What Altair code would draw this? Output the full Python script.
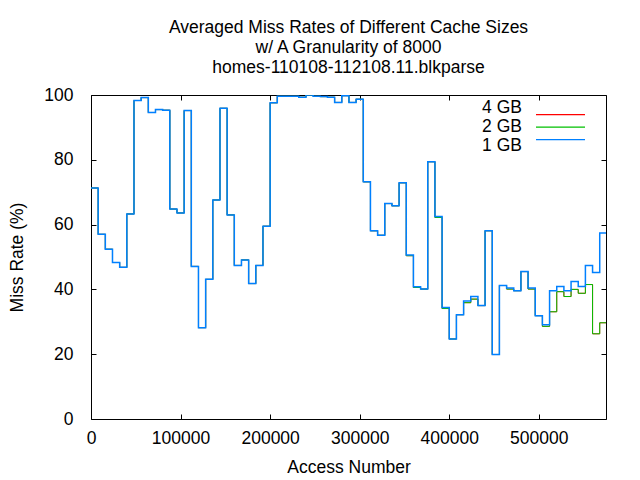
import altair as alt
import pandas as pd

granularity = 8000
series_names = ["4 GB", "2 GB", "1 GB"]
series_colors = ["#ff0000", "#00c000", "#0080ff"]
x_ticks = [0, 100000, 200000, 300000, 400000, 500000]
y_ticks = [0, 20, 40, 60, 80, 100]
title_lines = [
    "Averaged Miss Rates of Different Cache Sizes",
    "w/ A Granularity of 8000",
    "homes-110108-112108.11.blkparse",
]

miss_1gb = [
    71.3, 57.0, 52.4, 48.3, 46.8, 63.3, 98.3, 99.2, 94.6, 95.5,
    95.3, 64.8, 63.6, 95.2, 47.1, 28.2, 43.1, 67.6, 95.9, 63.0,
    47.4, 49.1, 41.8, 47.4, 59.5, 97.6, 99.6, 99.6, 99.6, 99.3,
    100.0, 99.6, 99.5, 99.3, 97.7, 99.8, 97.7, 98.7, 73.2, 58.1,
    56.7, 66.5, 65.8, 72.9, 50.6, 40.8, 40.1, 79.4, 62.5, 34.4,
    24.7, 32.2, 36.4, 37.8, 35.0, 58.1, 19.9, 41.2, 40.4, 39.6,
    45.5, 40.4, 31.9, 29.1, 39.6, 40.9, 39.6, 42.4, 40.9, 47.4,
    45.2, 57.4,
]
miss_2gb = [
    71.3, 57.0, 52.4, 48.3, 46.8, 63.3, 98.3, 99.2, 94.6, 95.5,
    95.3, 64.8, 63.6, 95.2, 47.1, 28.2, 43.1, 67.6, 95.9, 63.0,
    47.4, 49.1, 41.8, 47.4, 59.5, 97.6, 99.6, 99.6, 99.6, 99.3,
    100.0, 99.6, 99.5, 99.3, 97.7, 99.8, 97.7, 98.7, 73.2, 58.1,
    56.7, 66.5, 65.8, 72.9, 50.4, 40.6, 40.1, 79.4, 62.2, 34.1,
    24.7, 32.2, 35.9, 37.0, 35.0, 58.1, 19.9, 41.2, 40.1, 39.6,
    45.5, 40.1, 31.9, 28.6, 33.1, 39.3, 37.8, 40.0, 38.8, 41.5,
    26.3, 29.7,
]
miss_4gb = [
    71.3, 57.0, 52.4, 48.3, 46.8, 63.3, 98.3, 99.2, 94.6, 95.5,
    95.3, 64.8, 63.6, 95.2, 47.1, 28.2, 43.1, 67.6, 95.9, 63.0,
    47.4, 49.1, 41.8, 47.4, 59.5, 97.6, 99.6, 99.6, 99.6, 99.3,
    100.0, 99.6, 99.5, 99.3, 97.7, 99.8, 97.7, 98.7, 73.2, 58.1,
    56.7, 66.5, 65.8, 72.9, 50.4, 40.6, 40.1, 79.4, 62.2, 34.1,
    24.7, 32.2, 35.9, 37.0, 35.0, 58.1, 19.9, 41.2, 40.1, 39.6,
    45.5, 40.1, 31.9, 28.6, 33.1, 39.3, 37.8, 40.0, 38.8, 41.5,
    26.3, 29.7,
]

rows = []
for name, vals in zip(series_names, [miss_4gb, miss_2gb, miss_1gb]):
    pts = vals + [vals[-1]]  # close the last step
    for i, v in enumerate(pts):
        rows.append({"series": name, "access": i * granularity, "rate": v})
df = pd.DataFrame(rows)
legend_df = pd.DataFrame({"series": series_names})

W, H = 515, 324
FONT = "Liberation Sans"
FS = 17.5

x_scale = alt.Scale(domain=[0, 575000], nice=False, zero=False)
y_scale = alt.Scale(domain=[0, 100], nice=False)

main_x_axis = alt.Axis(values=x_ticks, format="d", ticks=False, domain=False, grid=False,
                       labelFlush=False, labelOverlap=False,
                       labelBaseline="alphabetic", labelPadding=24, title="Access Number",
                       titleBaseline="alphabetic", titleY=53, titleFontWeight="normal")
main_y_axis = alt.Axis(values=y_ticks, format="d", ticks=False, domain=False, grid=False,
                       labelFlush=False, labelOverlap=False,
                       labelPadding=18, title="Miss Rate (%)", titleX=-69,
                       titleBaseline="alphabetic", titleFontWeight="normal")
tick_x_bottom = alt.Axis(orient="top", offset=-H, values=x_ticks, labels=False, domain=False,
                         grid=False, tickSize=5, title=None)
tick_x_top = alt.Axis(orient="bottom", offset=-H, values=x_ticks, labels=False, domain=False,
                      grid=False, tickSize=5, title=None)
tick_y_left = alt.Axis(orient="right", offset=-W, values=y_ticks, labels=False, domain=False,
                       grid=False, tickSize=5, title=None)
tick_y_right = alt.Axis(orient="left", offset=-W, values=y_ticks, labels=False, domain=False,
                        grid=False, tickSize=5, title=None)


def line_layer(name, color, width, xaxis, yaxis):
    return alt.Chart(df).transform_filter(alt.datum.series == name).mark_line(
        interpolate="step-after", color=color, strokeWidth=width, clip=True
    ).encode(
        x=alt.X("access:Q", scale=x_scale, axis=xaxis),
        y=alt.Y("rate:Q", scale=y_scale, axis=yaxis),
    )


red = line_layer("4 GB", series_colors[0], 0.9, tick_x_bottom, tick_y_left)
green = line_layer("2 GB", series_colors[1], 1.0, tick_x_top, tick_y_right)
blue = line_layer("1 GB", series_colors[2], 1.5, main_x_axis, main_y_axis)

legend_y = alt.Y("series:N", scale=alt.Scale(domain=series_names, range=[13.3, 51], padding=0), axis=None)
legend_text = alt.Chart(legend_df).mark_text(
    align="right", baseline="middle", font=FONT, fontSize=FS, color="black"
).encode(x=alt.value(431), y=legend_y, text="series:N")
legend_lines = alt.Chart(legend_df).mark_rule(strokeWidth=1.2).encode(
    x=alt.value(445), x2=alt.value(494), y=legend_y,
    color=alt.Color("series:N", scale=alt.Scale(domain=series_names, range=series_colors), legend=None),
)

chart = alt.layer(red, green, blue, legend_text, legend_lines).resolve_scale(
    y="independent"
).resolve_axis(x="independent", y="independent").properties(
    width=W, height=H,
    title=alt.TitleParams(text=title_lines, font=FONT, fontSize=FS, fontWeight="normal",
                          anchor="middle", frame="group", offset=10, lineHeight=20, color="black"),
    autosize=alt.AutoSizeParams(type="none"),
    padding={"left": 83, "top": 87, "right": 26, "bottom": 61},
    background="white",
).configure_view(stroke="black", strokeWidth=1).configure_axis(
    labelFont=FONT, labelFontSize=FS, labelColor="black", titleFont=FONT, titleFontSize=FS,
    titleColor="black", tickColor="black", tickWidth=1
)

chart.save("out.html", embed_options={"renderer": "svg", "actions": False})
